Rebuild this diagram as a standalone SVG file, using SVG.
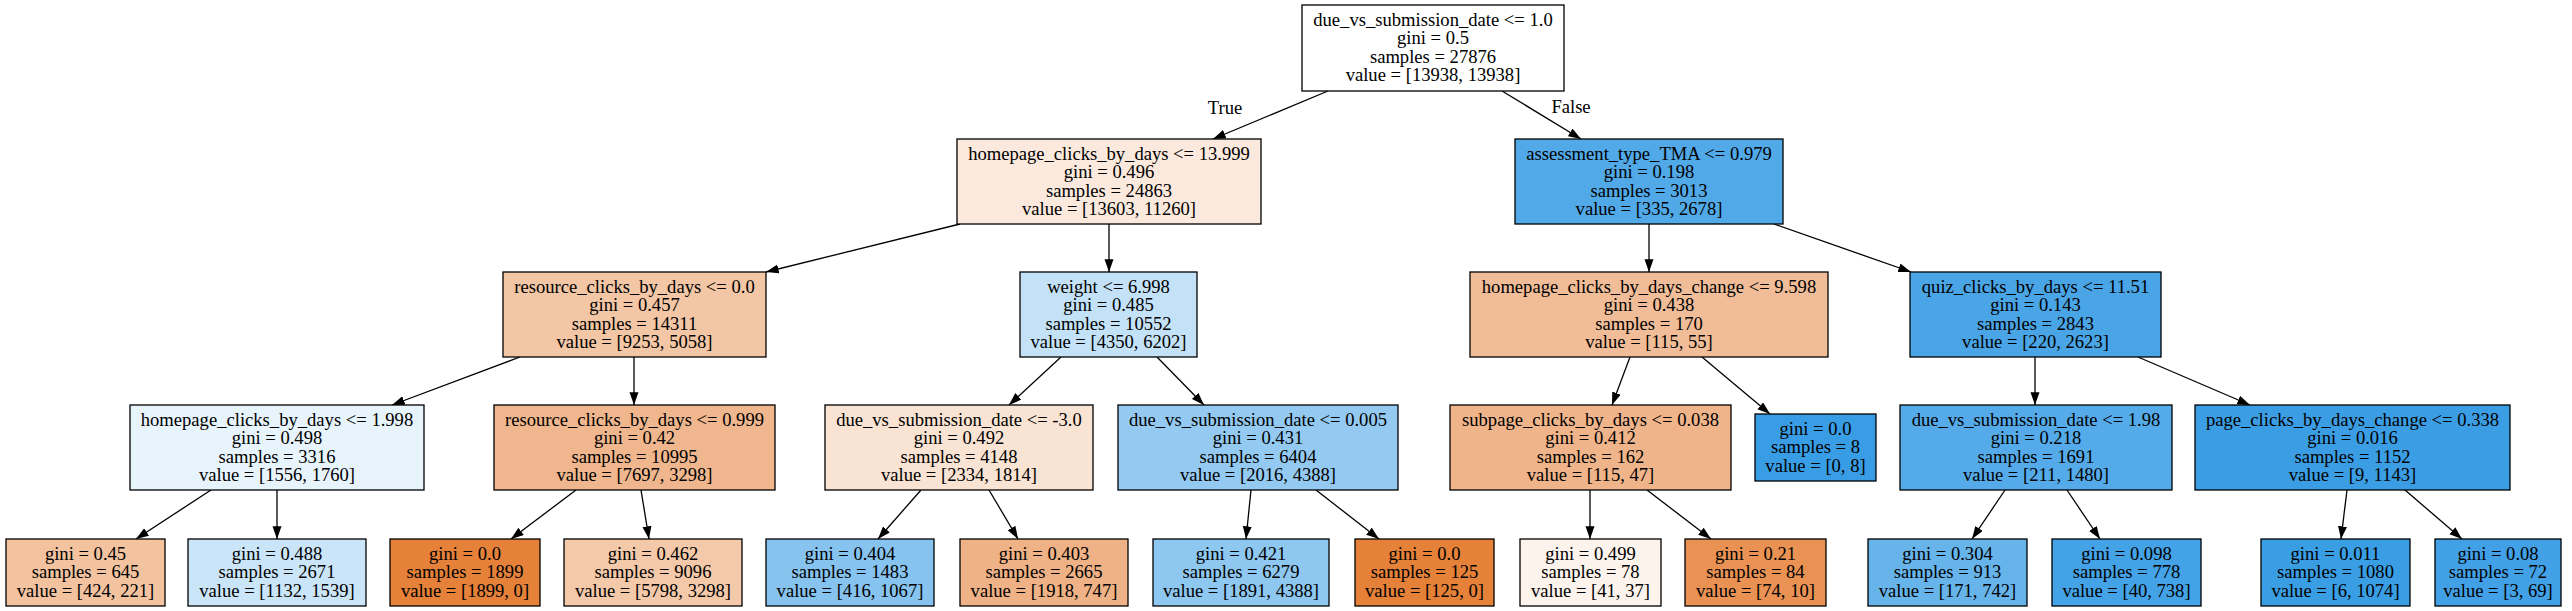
<svg xmlns="http://www.w3.org/2000/svg" width="2572" height="611" viewBox="0 0 2572 611">
<defs>
<style>
.nd rect{stroke:#000;stroke-width:1.3}
text{font-family:"Liberation Serif","Times New Roman",serif;font-size:18.6px;text-anchor:middle;fill:#000}
.ed line{stroke:#000;stroke-width:1.3;marker-end:url(#ah)}
</style>
<marker id="ah" markerUnits="userSpaceOnUse" markerWidth="14" markerHeight="10" refX="12.7" refY="4.5" orient="auto">
<path d="M0,0 L12.7,4.5 L0,9 z" fill="#000"/>
</marker>
</defs>
<rect width="2572" height="611" fill="#fff"/>
<g class="ed" id="edges">
<line x1="1328" y1="91" x2="1213" y2="139"/>
<line x1="1502" y1="91" x2="1581" y2="139"/>
<line x1="960" y1="224" x2="766" y2="272"/>
<line x1="1109" y1="224" x2="1109" y2="272"/>
<line x1="1649" y1="224" x2="1649" y2="272"/>
<line x1="1774" y1="224" x2="1911" y2="272"/>
<line x1="520" y1="357" x2="392" y2="405"/>
<line x1="634" y1="357" x2="634" y2="405"/>
<line x1="1061" y1="357" x2="1009" y2="405"/>
<line x1="1157" y1="357" x2="1204" y2="405"/>
<line x1="1630" y1="357" x2="1612" y2="405"/>
<line x1="1702" y1="357" x2="1770" y2="414"/>
<line x1="2035" y1="357" x2="2035" y2="405"/>
<line x1="2138" y1="357" x2="2250" y2="405"/>
<line x1="211" y1="490" x2="136" y2="539"/>
<line x1="277" y1="490" x2="277" y2="539"/>
<line x1="576" y1="490" x2="511" y2="539"/>
<line x1="641" y1="490" x2="649" y2="539"/>
<line x1="921" y1="490" x2="878" y2="539"/>
<line x1="989" y1="490" x2="1018" y2="539"/>
<line x1="1251" y1="490" x2="1246" y2="539"/>
<line x1="1316" y1="490" x2="1379" y2="539"/>
<line x1="1590" y1="490" x2="1590" y2="539"/>
<line x1="1647" y1="490" x2="1711" y2="539"/>
<line x1="2005" y1="490" x2="1972" y2="539"/>
<line x1="2067" y1="490" x2="2100" y2="539"/>
<line x1="2347" y1="490" x2="2341" y2="539"/>
<line x1="2405" y1="490" x2="2462" y2="539"/>
<text x="1225" y="114">True</text>
<text x="1571" y="113">False</text>
</g>
<g class="nd" id="n0"><rect x="1302" y="5" width="262" height="86" fill="#ffffff"/><text x="1433"><tspan x="1433" y="26">due_vs_submission_date &lt;= 1.0</tspan><tspan x="1433" y="44.3">gini = 0.5</tspan><tspan x="1433" y="62.6">samples = 27876</tspan><tspan x="1433" y="80.9">value = [13938, 13938]</tspan></text></g>
<g class="nd" id="n1"><rect x="957" y="139" width="304" height="85" fill="#fbe9dd"/><text><tspan x="1109" y="160">homepage_clicks_by_days &lt;= 13.999</tspan><tspan x="1109" y="178.3">gini = 0.496</tspan><tspan x="1109" y="196.6">samples = 24863</tspan><tspan x="1109" y="214.9">value = [13603, 11260]</tspan></text></g>
<g class="nd" id="n2"><rect x="503" y="272" width="263" height="85" fill="#f3c6a5"/><text><tspan x="634.5" y="293">resource_clicks_by_days &lt;= 0.0</tspan><tspan x="634.5" y="311.3">gini = 0.457</tspan><tspan x="634.5" y="329.6">samples = 14311</tspan><tspan x="634.5" y="347.9">value = [9253, 5058]</tspan></text></g>
<g class="nd" id="n3"><rect x="130" y="405" width="294" height="85" fill="#e8f4fc"/><text><tspan x="277" y="426">homepage_clicks_by_days &lt;= 1.998</tspan><tspan x="277" y="444.3">gini = 0.498</tspan><tspan x="277" y="462.6">samples = 3316</tspan><tspan x="277" y="480.9">value = [1556, 1760]</tspan></text></g>
<g class="nd" id="n4"><rect x="6" y="539" width="159" height="67" fill="#f3c3a0"/><text><tspan x="85.5" y="560">gini = 0.45</tspan><tspan x="85.5" y="578.3">samples = 645</tspan><tspan x="85.5" y="596.6">value = [424, 221]</tspan></text></g>
<g class="nd" id="n5"><rect x="188" y="539" width="178" height="67" fill="#cbe5f8"/><text><tspan x="277" y="560">gini = 0.488</tspan><tspan x="277" y="578.3">samples = 2671</tspan><tspan x="277" y="596.6">value = [1132, 1539]</tspan></text></g>
<g class="nd" id="n6"><rect x="494" y="405" width="281" height="85" fill="#f0b78e"/><text><tspan x="634.5" y="426">resource_clicks_by_days &lt;= 0.999</tspan><tspan x="634.5" y="444.3">gini = 0.42</tspan><tspan x="634.5" y="462.6">samples = 10995</tspan><tspan x="634.5" y="480.9">value = [7697, 3298]</tspan></text></g>
<g class="nd" id="n7"><rect x="390" y="539" width="150" height="67" fill="#e58139"/><text><tspan x="465" y="560">gini = 0.0</tspan><tspan x="465" y="578.3">samples = 1899</tspan><tspan x="465" y="596.6">value = [1899, 0]</tspan></text></g>
<g class="nd" id="n8"><rect x="564" y="539" width="178" height="67" fill="#f4c9aa"/><text><tspan x="653" y="560">gini = 0.462</tspan><tspan x="653" y="578.3">samples = 9096</tspan><tspan x="653" y="596.6">value = [5798, 3298]</tspan></text></g>
<g class="nd" id="n9"><rect x="1020" y="272" width="177" height="85" fill="#c4e2f7"/><text><tspan x="1108.5" y="293">weight &lt;= 6.998</tspan><tspan x="1108.5" y="311.3">gini = 0.485</tspan><tspan x="1108.5" y="329.6">samples = 10552</tspan><tspan x="1108.5" y="347.9">value = [4350, 6202]</tspan></text></g>
<g class="nd" id="n10"><rect x="825" y="405" width="268" height="85" fill="#f9e3d3"/><text><tspan x="959" y="426">due_vs_submission_date &lt;= -3.0</tspan><tspan x="959" y="444.3">gini = 0.492</tspan><tspan x="959" y="462.6">samples = 4148</tspan><tspan x="959" y="480.9">value = [2334, 1814]</tspan></text></g>
<g class="nd" id="n11"><rect x="766" y="539" width="168" height="67" fill="#86c3ef"/><text><tspan x="850" y="560">gini = 0.404</tspan><tspan x="850" y="578.3">samples = 1483</tspan><tspan x="850" y="596.6">value = [416, 1067]</tspan></text></g>
<g class="nd" id="n12"><rect x="960" y="539" width="168" height="67" fill="#efb286"/><text><tspan x="1044" y="560">gini = 0.403</tspan><tspan x="1044" y="578.3">samples = 2665</tspan><tspan x="1044" y="596.6">value = [1918, 747]</tspan></text></g>
<g class="nd" id="n13"><rect x="1118" y="405" width="280" height="85" fill="#94caf1"/><text><tspan x="1258" y="426">due_vs_submission_date &lt;= 0.005</tspan><tspan x="1258" y="444.3">gini = 0.431</tspan><tspan x="1258" y="462.6">samples = 6404</tspan><tspan x="1258" y="480.9">value = [2016, 4388]</tspan></text></g>
<g class="nd" id="n14"><rect x="1153" y="539" width="176" height="67" fill="#8ec7f0"/><text><tspan x="1241" y="560">gini = 0.421</tspan><tspan x="1241" y="578.3">samples = 6279</tspan><tspan x="1241" y="596.6">value = [1891, 4388]</tspan></text></g>
<g class="nd" id="n15"><rect x="1355" y="539" width="139" height="67" fill="#e58139"/><text><tspan x="1424.5" y="560">gini = 0.0</tspan><tspan x="1424.5" y="578.3">samples = 125</tspan><tspan x="1424.5" y="596.6">value = [125, 0]</tspan></text></g>
<g class="nd" id="n16"><rect x="1515" y="139" width="268" height="85" fill="#52a9e8"/><text><tspan x="1649" y="160">assessment_type_TMA &lt;= 0.979</tspan><tspan x="1649" y="178.3">gini = 0.198</tspan><tspan x="1649" y="196.6">samples = 3013</tspan><tspan x="1649" y="214.9">value = [335, 2678]</tspan></text></g>
<g class="nd" id="n17"><rect x="1470" y="272" width="358" height="85" fill="#f1bd98"/><text><tspan x="1649" y="293">homepage_clicks_by_days_change &lt;= 9.598</tspan><tspan x="1649" y="311.3">gini = 0.438</tspan><tspan x="1649" y="329.6">samples = 170</tspan><tspan x="1649" y="347.9">value = [115, 55]</tspan></text></g>
<g class="nd" id="n18"><rect x="1450" y="405" width="281" height="85" fill="#f0b48a"/><text><tspan x="1590.5" y="426">subpage_clicks_by_days &lt;= 0.038</tspan><tspan x="1590.5" y="444.3">gini = 0.412</tspan><tspan x="1590.5" y="462.6">samples = 162</tspan><tspan x="1590.5" y="480.9">value = [115, 47]</tspan></text></g>
<g class="nd" id="n19"><rect x="1520" y="539" width="141" height="67" fill="#fcf3ec"/><text><tspan x="1590.5" y="560">gini = 0.499</tspan><tspan x="1590.5" y="578.3">samples = 78</tspan><tspan x="1590.5" y="596.6">value = [41, 37]</tspan></text></g>
<g class="nd" id="n20"><rect x="1685" y="539" width="141" height="67" fill="#e99254"/><text><tspan x="1755.5" y="560">gini = 0.21</tspan><tspan x="1755.5" y="578.3">samples = 84</tspan><tspan x="1755.5" y="596.6">value = [74, 10]</tspan></text></g>
<g class="nd" id="n21"><rect x="1755" y="414" width="121" height="67" fill="#399de5"/><text><tspan x="1815.5" y="435">gini = 0.0</tspan><tspan x="1815.5" y="453.3">samples = 8</tspan><tspan x="1815.5" y="471.6">value = [0, 8]</tspan></text></g>
<g class="nd" id="n22"><rect x="1910" y="272" width="251" height="85" fill="#4aa5e7"/><text><tspan x="2035.5" y="293">quiz_clicks_by_days &lt;= 11.51</tspan><tspan x="2035.5" y="311.3">gini = 0.143</tspan><tspan x="2035.5" y="329.6">samples = 2843</tspan><tspan x="2035.5" y="347.9">value = [220, 2623]</tspan></text></g>
<g class="nd" id="n23"><rect x="1900" y="405" width="272" height="85" fill="#55abe9"/><text><tspan x="2036" y="426">due_vs_submission_date &lt;= 1.98</tspan><tspan x="2036" y="444.3">gini = 0.218</tspan><tspan x="2036" y="462.6">samples = 1691</tspan><tspan x="2036" y="480.9">value = [211, 1480]</tspan></text></g>
<g class="nd" id="n24"><rect x="1868" y="539" width="159" height="67" fill="#67b4eb"/><text><tspan x="1947.5" y="560">gini = 0.304</tspan><tspan x="1947.5" y="578.3">samples = 913</tspan><tspan x="1947.5" y="596.6">value = [171, 742]</tspan></text></g>
<g class="nd" id="n25"><rect x="2052" y="539" width="149" height="67" fill="#44a2e6"/><text><tspan x="2126.5" y="560">gini = 0.098</tspan><tspan x="2126.5" y="578.3">samples = 778</tspan><tspan x="2126.5" y="596.6">value = [40, 738]</tspan></text></g>
<g class="nd" id="n26"><rect x="2195" y="405" width="315" height="85" fill="#3b9ee5"/><text><tspan x="2352.5" y="426">page_clicks_by_days_change &lt;= 0.338</tspan><tspan x="2352.5" y="444.3">gini = 0.016</tspan><tspan x="2352.5" y="462.6">samples = 1152</tspan><tspan x="2352.5" y="480.9">value = [9, 1143]</tspan></text></g>
<g class="nd" id="n27"><rect x="2261" y="539" width="149" height="67" fill="#3a9ee5"/><text><tspan x="2335.5" y="560">gini = 0.011</tspan><tspan x="2335.5" y="578.3">samples = 1080</tspan><tspan x="2335.5" y="596.6">value = [6, 1074]</tspan></text></g>
<g class="nd" id="n28"><rect x="2435" y="539" width="126" height="67" fill="#42a1e6"/><text><tspan x="2498" y="560">gini = 0.08</tspan><tspan x="2498" y="578.3">samples = 72</tspan><tspan x="2498" y="596.6">value = [3, 69]</tspan></text></g>
</svg>
